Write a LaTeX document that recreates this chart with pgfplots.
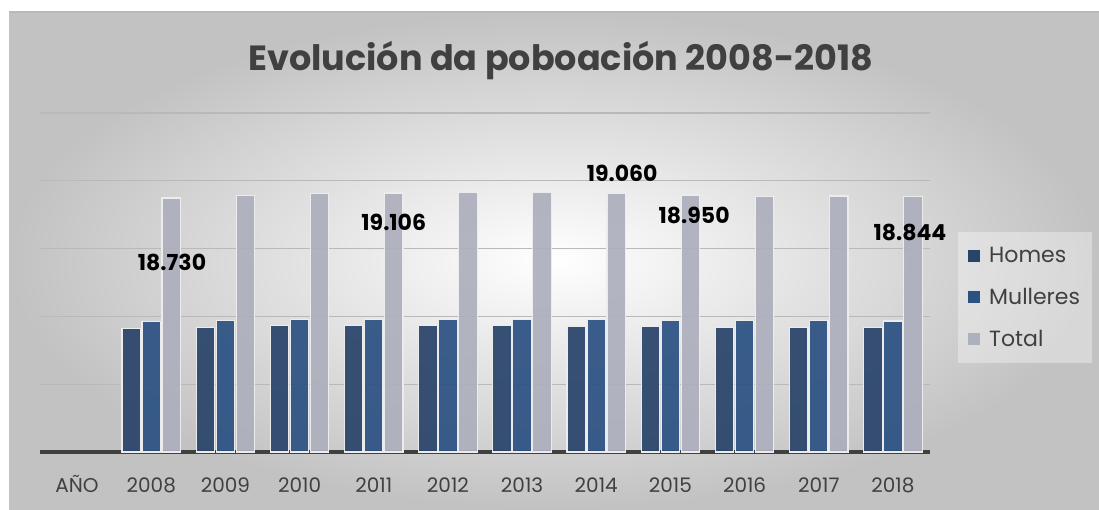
\documentclass[border=0pt]{standalone}
\usepackage{fontspec}
\setmainfont{Poppins}
\usepackage{pgfplots}
\pgfplotsset{compat=1.18}
\definecolor{homes}{HTML}{29446A}
\definecolor{mull}{HTML}{2C5283}
\definecolor{tot}{HTML}{ADB0BD}
\definecolor{txt}{HTML}{404040}
\definecolor{gridc}{HTML}{B9B9B9}
\definecolor{bgout}{HTML}{C2C2C2}
\begin{document}
\begin{tikzpicture}[x=1pt,y=1pt]
\useasboundingbox (0,0) rectangle (1099,509);
\fill[white] (0,0) rectangle (1099,509);
\shade[inner color=white, outer color=bgout] (9,0) rectangle (1099,497);
\draw[gray!55, line width=1.5pt] (9,497) -- (1099,497);
\begin{axis}[
  at={(40pt,57pt)}, anchor=south west,
  width=890pt, height=339pt, scale only axis,
  xmin=-0.5, xmax=11.5, ymin=0, ymax=25000,
  clip=false,
  scaled y ticks=false,
  axis line style={draw=none},
  ytick={5000,10000,15000,20000,25000}, yticklabels={},
  ymajorgrids, grid style={gridc, line width=1.3pt},
  extra y ticks={0}, extra y tick labels={},
  extra y tick style={grid style={txt, line width=4pt}},
  major tick length=0pt,
  xtick={0,...,11},
  xticklabels={AÑO,2008,2009,2010,2011,2012,2013,2014,2015,2016,2017,2018},
  xticklabel style={font=\fontsize{20}{24}\selectfont, text=txt, yshift=-22pt,
    text height=15pt, text depth=4pt},
  title={Evolución da poboación 2008-2018},
  title style={at={(0.585,1.138)}, anchor=center, font=\fontsize{35}{40}\selectfont\bfseries, text=txt},
  ybar, bar width=18.5pt,
  legend style={at={(1.0315,0.649)}, anchor=north west, draw=none,
    fill=white, fill opacity=0.35, text opacity=1,
    font=\fontsize{22}{26}\selectfont, text=txt,
    row sep=20pt, inner xsep=10pt, inner ysep=13pt,
    /tikz/every odd column/.append style={column sep=7pt}},
  legend cell align=left,
  legend image code/.code={\fill[#1, draw=none, fill opacity=1] (0pt,-6pt) rectangle (12pt,6pt);},
]
\addplot[fill=homes, draw=white!85!gray, line width=1.2pt, fill opacity=0.93, bar shift=-20pt]
  coordinates {(1,9110)(2,9190)(3,9300)(4,9310)(5,9340)(6,9320)(7,9290)(8,9240)(9,9200)(10,9200)(11,9180)};
\addplot[fill=mull, draw=white!85!gray, line width=1.2pt, fill opacity=0.93, bar shift=0pt]
  coordinates {(1,9620)(2,9710)(3,9780)(4,9796)(5,9810)(6,9790)(7,9770)(8,9710)(9,9670)(10,9680)(11,9664)};
\addplot[fill=tot, draw=white!85!gray, line width=1.2pt, fill opacity=0.93, bar shift=20pt]
  coordinates {(1,18730)(2,18900)(3,19080)(4,19106)(5,19150)(6,19110)(7,19060)(8,18950)(9,18870)(10,18880)(11,18844)};
\legend{Homes,Mulleres,Total}
\begin{scope}[every node/.style={font=\fontsize{22}{26}\selectfont\bfseries, text=black}]
\node at (axis cs:1.28,13970) {18.730};
\node at (axis cs:4.27,16930) {19.106};
\node at (axis cs:7.35,20540) {19.060};
\node at (axis cs:8.32,17480) {18.950};
\node at (axis cs:11.23,16200) {18.844};
\end{scope}
\end{axis}
\end{tikzpicture}
\end{document}
